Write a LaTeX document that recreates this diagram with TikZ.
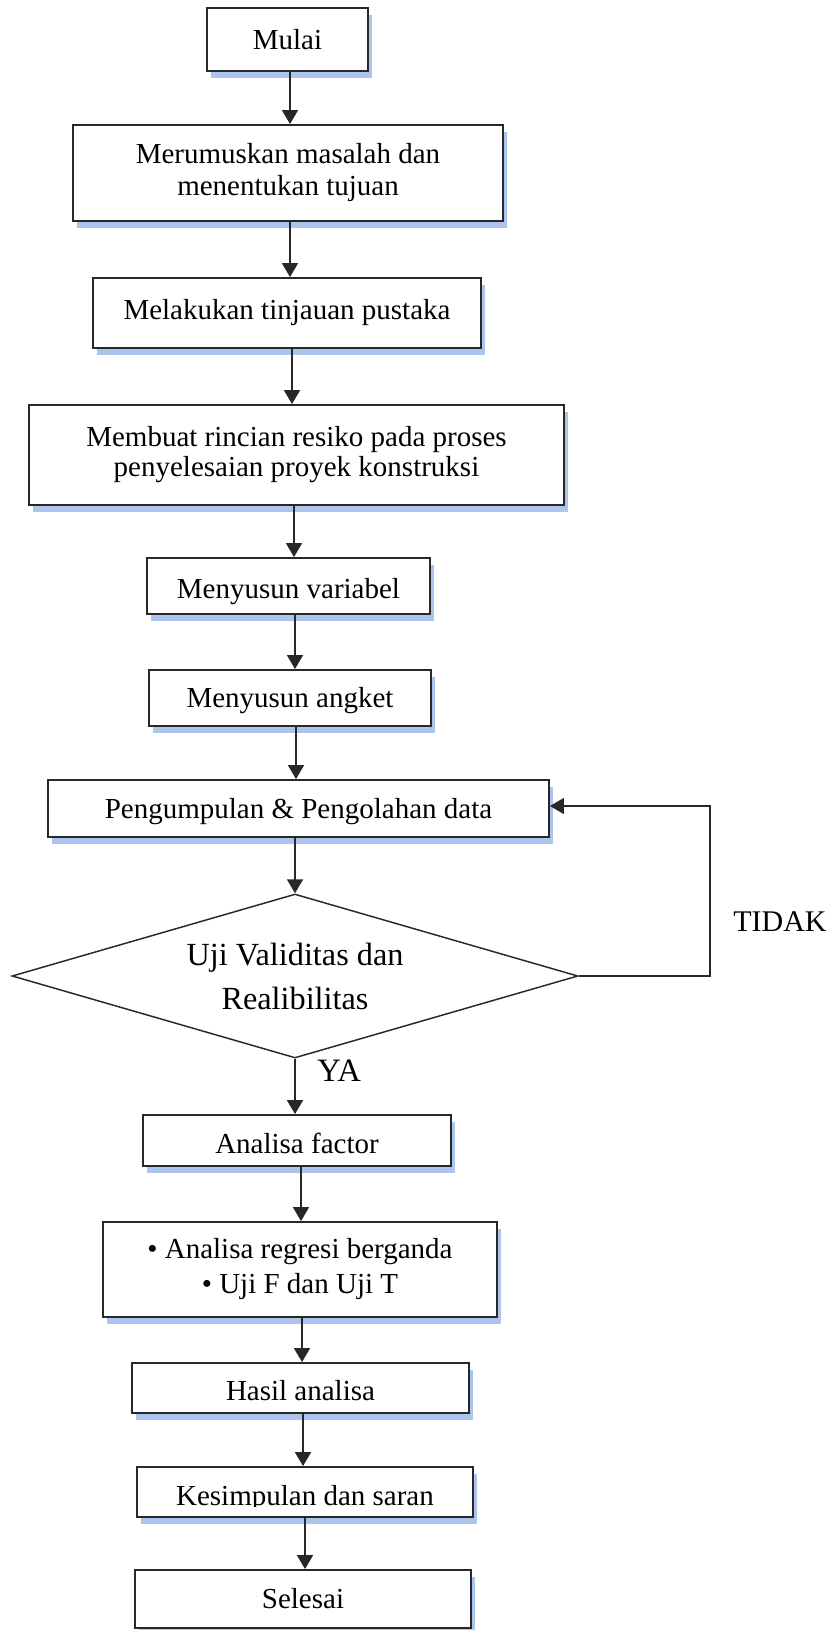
\documentclass[tikz,border=0pt]{standalone}
\usepackage{fontspec}
\setmainfont{Liberation Serif}
\usetikzlibrary{shapes.geometric,arrows.meta,shadows}
\definecolor{linec}{RGB}{40,40,40}
\definecolor{shadowblue}{RGB}{172,196,238}
\begin{document}
\begin{tikzpicture}[x=0.75pt,y=-0.75pt,
  box/.style={draw=linec, line width=1.4pt, fill=white, inner sep=0pt, align=center,
     general shadow={fill=shadowblue, shadow xshift=3.2pt, shadow yshift=-5.5pt}},
  one/.style={text height=14.4pt, text depth=0pt},
  fnt/.style={font=\fontsize{21.75}{24}\selectfont},
  arr/.style={draw=linec, line width=1.3pt, -{Triangle[width=12pt,length=10.5pt]}},
  decision/.style={diamond, draw=linec, line width=1.1pt, fill=white, inner sep=0pt,
     aspect=3.45, align=center, font=\fontsize{24.2}{33}\selectfont}
]
\useasboundingbox (0,0) rectangle (837,1630);

% boxes
\node[box, fnt, one, minimum width=120.75pt, minimum height=47.25pt] (mulai) at (287.5,39.5) {Mulai};
\node[box, fnt, minimum width=322.5pt, minimum height=72pt] (rumus) at (288,173) {Merumuskan masalah dan\\menentukan tujuan};
\node[box, fnt, one, text depth=4pt, minimum width=291pt, minimum height=52.5pt] (tinjau) at (287,313) {Melakukan tinjauan pustaka};
\node[box, font=\fontsize{21.75}{22.5}\selectfont, minimum width=401.25pt, minimum height=75pt] (rincian) at (296.5,455) {Membuat rincian resiko pada proses\\penyelesaian proyek konstruksi};
\node[box, fnt, one, text height=18pt, minimum width=212.25pt, minimum height=42pt] (variabel) at (288.5,586) {Menyusun variabel};
\node[box, fnt, one, minimum width=211.5pt, minimum height=42pt] (angket) at (290,698) {Menyusun angket};
\node[box, fnt, one, minimum width=375.75pt, minimum height=42.75pt] (kumpul) at (298.5,808.5) {Pengumpulan \& Pengolahan data};
\node[decision, minimum width=424.5pt, minimum height=123pt] (uji) at (295,976) {Uji Validitas dan\\Realibilitas};
\node[box, fnt, one, text height=18.8pt, minimum width=231pt, minimum height=38.25pt] (faktor) at (297,1140.5) {Analisa factor};
\node[box, font=\fontsize{21.75}{26.25}\selectfont, minimum width=295.5pt, minimum height=71.25pt] (regresi) at (300,1269.5) {\textbullet{} Analisa regresi berganda\\\textbullet{} Uji F dan Uji T};
\node[box, minimum width=252.75pt, minimum height=37.5pt] (hasil) at (300.5,1388) {};
\begin{scope}
  \clip (132,1363) rectangle (469,1401);
  \node[fnt, anchor=base, inner sep=0pt] (hasiltxt) at (300.5,1400) {Hasil analisa};
\end{scope}
\node[box, minimum width=252pt, minimum height=37.5pt] (simpul) at (305,1492) {};
\begin{scope}
  \clip (137,1467) rectangle (473,1506);
  \node[fnt, anchor=base, inner sep=0pt] (simpultxt) at (305,1505) {Kesimpulan dan saran};
\end{scope}
\node[box, fnt, one, minimum width=252pt, minimum height=43.5pt] (selesai) at (303,1599) {Selesai};

% labels
\node[font=\fontsize{22.5}{24}\selectfont, anchor=base, inner sep=0pt] (tidak) at (780,931) {TIDAK};
\node[font=\fontsize{24.5}{26}\selectfont, anchor=base west, inner sep=0pt] (ya) at (317,1081) {YA};

% arrow x positions
\coordinate (c1) at (290,0);
\coordinate (c2) at (290,0);
\coordinate (c3) at (292,0);
\coordinate (c4) at (294,0);
\coordinate (c5) at (295,0);
\coordinate (c6) at (296,0);
\coordinate (c9) at (301,0);
\coordinate (c10) at (302,0);
\coordinate (c11) at (303,0);
\coordinate (c12) at (305,0);
\coordinate (fbtop) at (710,806);

\draw[arr] (mulai.south -| c1) -- (rumus.north -| c1);
\draw[arr] (rumus.south -| c2) -- (tinjau.north -| c2);
\draw[arr] (tinjau.south -| c3) -- (rincian.north -| c3);
\draw[arr] (rincian.south -| c4) -- (variabel.north -| c4);
\draw[arr] (variabel.south -| c5) -- (angket.north -| c5);
\draw[arr] (angket.south -| c6) -- (kumpul.north -| c6);
\draw[arr] (kumpul.south -| uji.north) -- (uji.north);
\draw[arr] (uji.south) -- (faktor.north -| uji.south);
\draw[arr] (faktor.south -| c9) -- (regresi.north -| c9);
\draw[arr] (regresi.south -| c10) -- (hasil.north -| c10);
\draw[arr] (hasil.south -| c11) -- (simpul.north -| c11);
\draw[arr] (simpul.south -| c12) -- (selesai.north -| c12);
\draw[arr, line width=1.1pt] (uji.east) -| (fbtop) -- (kumpul.east |- fbtop);
\end{tikzpicture}
\end{document}
